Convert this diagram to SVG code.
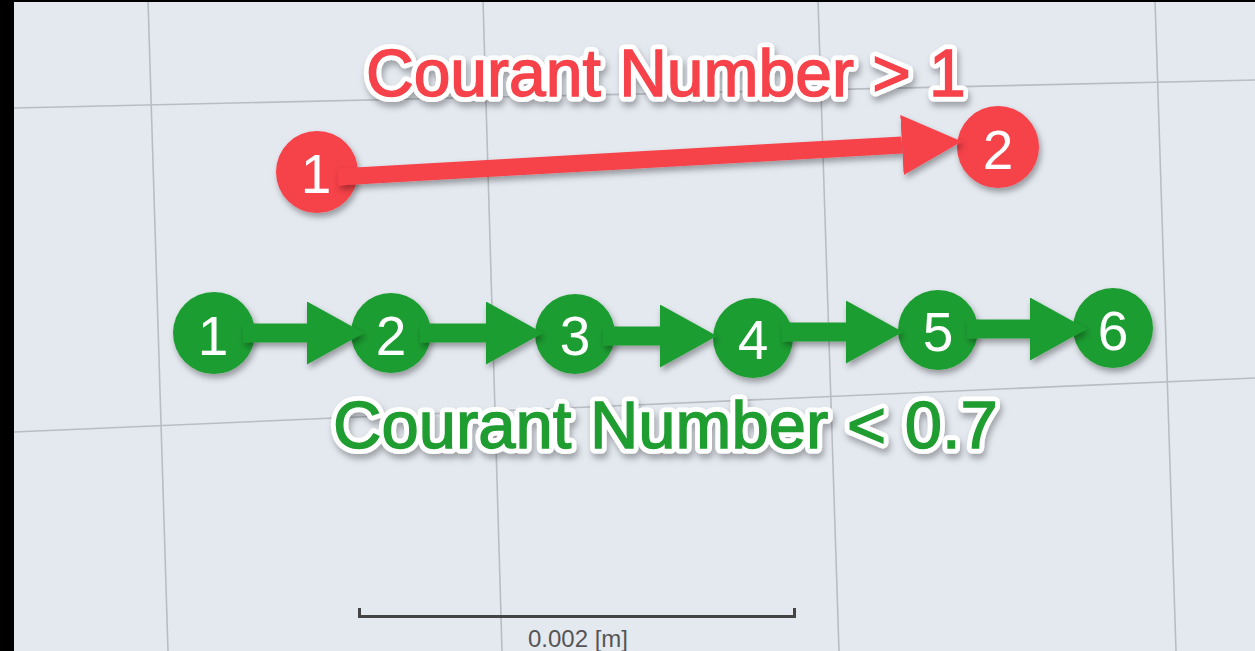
<svg xmlns="http://www.w3.org/2000/svg" width="1255" height="651" viewBox="0 0 1255 651">
<style>
.grid{stroke:#b9bdc3;stroke-width:1.6;fill:none}
.rn{fill:#f6424a}
.gn{fill:#1f9d31}
.num{font-family:"Liberation Sans",Arial,sans-serif;font-size:55px;fill:#ffffff;text-anchor:middle}
.title{font-family:"Liberation Sans",Arial,sans-serif}
.halo{stroke:#ffffff;stroke-width:11;stroke-linejoin:round;fill:#ffffff}
.rt{fill:#f6424a;stroke:#f6424a;stroke-width:1.4}
.gt{fill:#1f9d31;stroke:#1f9d31;stroke-width:1.4}
.rl{stroke:#f6424a;stroke-width:17;fill:none}
.gl{stroke:#1f9d31;stroke-width:19;fill:none}
</style>
<defs>
<filter id="sh" x="-30%" y="-30%" width="160%" height="160%">
<feDropShadow dx="2" dy="4" stdDeviation="3" flood-color="#000" flood-opacity="0.35"/>
</filter>
<filter id="tsh" x="-10%" y="-30%" width="120%" height="160%">
<feDropShadow dx="2" dy="5" stdDeviation="3" flood-color="#000" flood-opacity="0.3"/>
</filter>
<marker id="ra" markerUnits="userSpaceOnUse" viewBox="0 0 60 60" markerWidth="60" markerHeight="60" refX="0" refY="30" orient="auto">
<path d="M0,0 L60,30 L0,60 Z" fill="#f6424a"/>
</marker>
<marker id="ga" markerUnits="userSpaceOnUse" viewBox="0 0 57 63" markerWidth="57" markerHeight="63" refX="0" refY="31.5" orient="auto">
<path d="M0,0 L57,31.5 L0,63 Z" fill="#1f9d31"/>
</marker>
</defs>
<rect x="0" y="0" width="1255" height="651" fill="#e4e9f0"/>
<g id="grid">
<line class="grid" x1="148" y1="0" x2="168" y2="651"/>
<line class="grid" x1="483" y1="0" x2="502" y2="651"/>
<line class="grid" x1="818" y1="0" x2="839" y2="651"/>
<line class="grid" x1="1155" y1="0" x2="1176" y2="651"/>
<line class="grid" x1="14" y1="108" x2="1255" y2="80"/>
<line class="grid" x1="14" y1="432" x2="1255" y2="378"/>
</g>
<rect x="0" y="0" width="14" height="651" fill="#000"/>
<rect x="0" y="0" width="1255" height="2" fill="#000"/>
<g id="title-red" class="title" font-size="66">
<text class="halo" x="366" y="96" filter="url(#tsh)">Courant Number &gt; 1</text>
<text class="rt" x="366" y="96">Courant Number &gt; 1</text>
</g>
<g id="title-green" class="title" font-size="67">
<text class="halo" x="333" y="448" filter="url(#tsh)">Courant Number &lt; 0.7</text>
<text class="gt" x="333" y="448">Courant Number &lt; 0.7</text>
</g>
<g id="r1"><circle class="rn" cx="317" cy="172" r="41" filter="url(#sh)"/><text class="num" x="316" y="193">1</text></g>
<g id="r2"><circle class="rn" cx="998" cy="147" r="41" filter="url(#sh)"/><text class="num" x="998" y="169">2</text></g>
<g id="g1"><circle class="gn" cx="214" cy="333" r="41" filter="url(#sh)"/><text class="num" x="213" y="355">1</text></g>
<g id="g2"><circle class="gn" cx="391" cy="333" r="40" filter="url(#sh)"/><text class="num" x="391" y="355">2</text></g>
<g id="g3"><circle class="gn" cx="575" cy="334" r="40" filter="url(#sh)"/><text class="num" x="575" y="355">3</text></g>
<g id="g4"><circle class="gn" cx="753" cy="338" r="40" filter="url(#sh)"/><text class="num" x="753" y="359">4</text></g>
<g id="g5"><circle class="gn" cx="938" cy="330" r="40" filter="url(#sh)"/><text class="num" x="938" y="351">5</text></g>
<g id="g6"><circle class="gn" cx="1113" cy="328" r="40" filter="url(#sh)"/><text class="num" x="1113" y="350">6</text></g>
<g id="connectors" filter="url(#sh)">
<line class="rl" x1="338" y1="177" x2="902" y2="145" marker-end="url(#ra)"/>
<line class="gl" x1="243" y1="333" x2="307" y2="333" marker-end="url(#ga)"/>
<line class="gl" x1="420" y1="333" x2="486" y2="333" marker-end="url(#ga)"/>
<line class="gl" x1="603" y1="336" x2="660" y2="336" marker-end="url(#ga)"/>
<line class="gl" x1="782" y1="332" x2="846" y2="332" marker-end="url(#ga)"/>
<line class="gl" x1="967" y1="329" x2="1030" y2="329" marker-end="url(#ga)"/>
</g>
<g id="scalebar">
<path d="M359.5,608 V616.5 H794.5 V608" fill="none" stroke="#444" stroke-width="3"/>
<text x="578" y="647" font-family="'Liberation Sans',Arial,sans-serif" font-size="24" fill="#555" text-anchor="middle">0.002 [m]</text>
</g>
</svg>
